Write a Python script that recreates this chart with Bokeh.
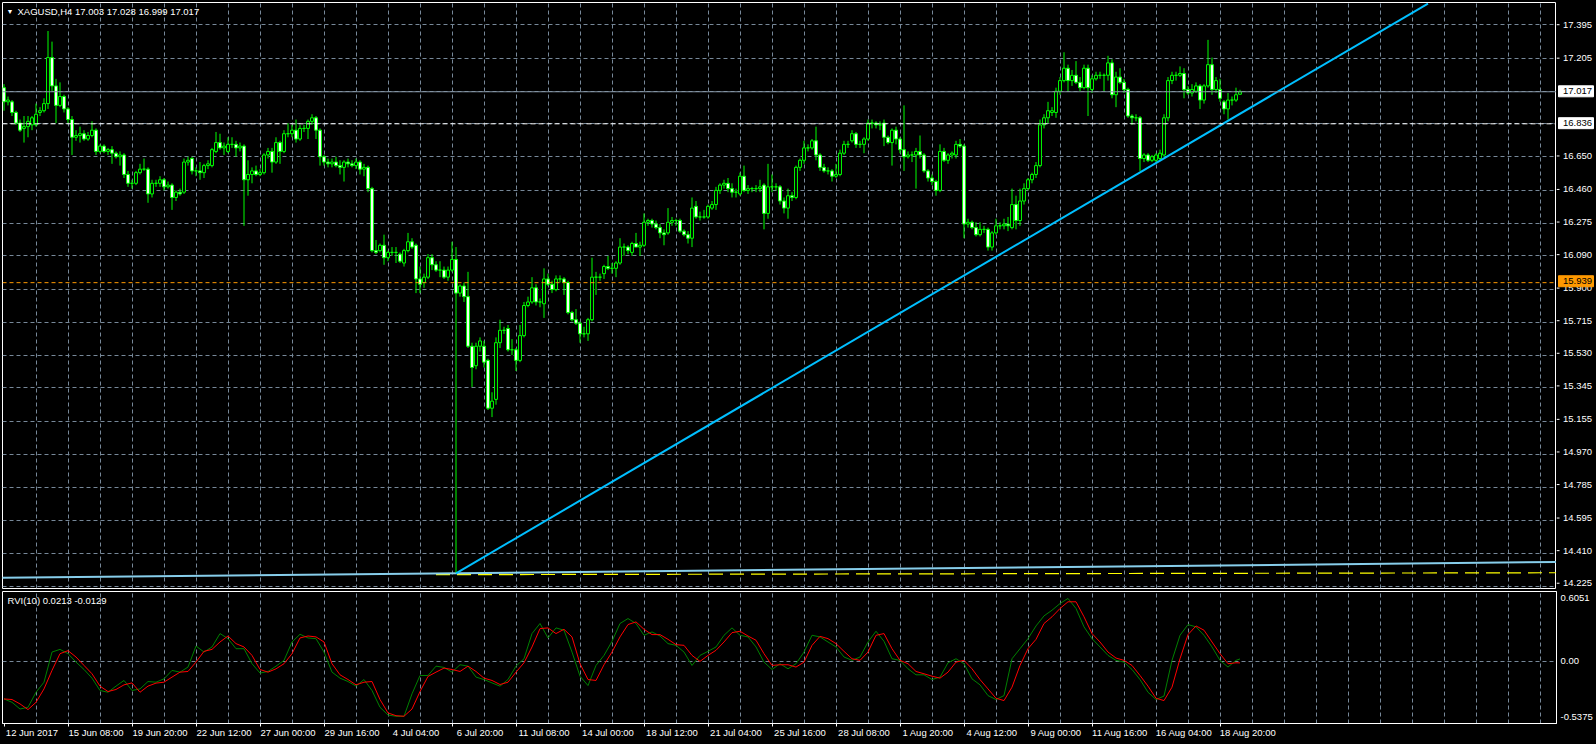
import numpy as np
from bokeh.plotting import figure
from bokeh.layouts import column, row
from bokeh.models import (Range1d, FixedTicker, Span, Label, ColumnDataSource, Grid,
                          LinearAxis)
from bokeh.core.properties import value
from bokeh.embed import file_html
from bokeh.resources import INLINE

# ---------------- data ----------------
symbol_title = "XAGUSD,H4  17.003 17.028 16.999 17.017"
rvi_title = "RVI(10) 0.0213 -0.0129"

opens = [
 17.04,16.96,16.96,16.90,16.84,16.81,16.82,16.83,16.83,16.90,16.91,16.95,17.21,17.05,16.94,16.99,
 16.92,16.86,16.76,16.77,16.78,16.75,16.77,16.80,16.68,16.71,16.68,16.69,16.67,16.65,16.66,16.55,
 16.50,16.50,16.56,16.58,16.58,16.44,16.50,16.50,16.52,16.48,16.49,16.42,16.45,16.45,16.62,16.64,
 16.57,16.57,16.56,16.60,16.60,16.68,16.73,16.70,16.68,16.72,16.72,16.70,16.71,16.52,16.55,16.57,
 16.55,16.56,16.66,16.68,16.62,16.73,16.68,16.78,16.78,16.80,16.75,16.81,16.81,16.85,16.87,16.80,
 16.65,16.62,16.61,16.62,16.60,16.59,16.62,16.61,16.60,16.62,16.58,16.59,16.47,16.12,16.12,16.15,
 16.08,16.11,16.11,16.10,16.05,16.12,16.17,16.15,15.96,15.94,15.97,16.08,16.04,16.01,16.01,15.97,
 16.01,16.07,15.88,15.92,15.86,15.58,15.47,15.58,15.58,15.50,15.23,15.28,15.60,15.67,15.68,15.56,
 15.56,15.50,15.64,15.81,15.83,15.91,15.83,15.82,15.96,15.93,15.90,15.96,15.96,15.94,15.77,15.73,
 15.71,15.65,15.65,15.73,15.97,15.97,15.99,16.03,16.02,16.02,16.05,16.14,16.14,16.11,16.16,16.14,
 16.15,16.28,16.29,16.27,16.25,16.22,16.22,16.28,16.29,16.29,16.23,16.21,16.19,16.37,16.31,16.31,
 16.31,16.36,16.38,16.46,16.49,16.50,16.47,16.45,16.44,16.54,16.46,16.47,16.47,16.47,16.49,16.33,
 16.48,16.48,16.48,16.40,16.36,16.43,16.42,16.59,16.63,16.70,16.70,16.74,16.66,16.59,16.57,16.57,
 16.54,16.55,16.67,16.72,16.74,16.78,16.72,16.72,16.75,16.84,16.84,16.83,16.84,16.76,16.73,16.80,
 16.75,16.69,16.65,16.66,16.66,16.68,16.66,16.57,16.53,16.51,16.46,16.68,16.63,16.66,16.66,16.72,
 16.71,16.27,16.28,16.25,16.21,16.24,16.24,16.14,16.22,16.26,16.26,16.27,16.25,16.38,16.29,16.40,
 16.47,16.52,16.55,16.60,16.83,16.87,16.90,16.90,17.02,17.08,17.15,17.08,17.11,17.07,17.04,17.15,
 17.03,17.09,17.11,17.11,17.11,17.18,17.00,17.10,17.07,17.03,16.88,16.87,16.87,16.64,16.66,16.63,
 16.63,16.64,16.66,16.87,17.08,17.11,17.11,17.12,17.03,17.01,17.02,17.05,16.97,17.05,17.17,17.03,
 17.03,16.96,16.92,16.97,16.97,17.003]
highs = [
 17.06,16.99,16.97,16.91,16.86,16.88,16.88,16.88,16.95,16.93,16.98,17.36,17.30,17.09,17.07,17.00,
 16.93,16.88,16.80,16.82,16.80,16.79,16.85,16.81,16.72,16.72,16.70,16.71,16.68,16.68,16.67,16.57,
 16.52,16.57,16.61,16.64,16.59,16.52,16.52,16.54,16.53,16.51,16.50,16.46,16.47,16.64,16.65,16.65,
 16.59,16.62,16.61,16.63,16.70,16.79,16.78,16.73,16.76,16.76,16.74,16.73,16.72,16.63,16.59,16.60,
 16.58,16.67,16.70,16.70,16.76,16.74,16.80,16.84,16.83,16.86,16.83,16.83,16.86,16.89,16.88,16.81,
 16.66,16.64,16.64,16.65,16.63,16.63,16.64,16.63,16.64,16.63,16.61,16.60,16.48,16.18,16.16,16.21,
 16.12,16.14,16.14,16.11,16.13,16.22,16.19,16.16,16.03,15.99,16.10,16.10,16.06,16.06,16.03,16.03,
 16.17,16.14,15.93,15.94,16.00,15.60,15.60,15.63,15.61,15.51,15.32,15.63,15.73,15.69,15.70,15.62,
 15.57,15.70,15.83,15.86,15.97,15.93,15.85,16.02,15.99,15.95,15.98,15.98,15.97,15.95,15.78,15.79,
 15.72,15.69,15.74,16.08,16.00,15.99,16.04,16.09,16.05,16.06,16.19,16.16,16.15,16.17,16.22,16.17,
 16.33,16.30,16.30,16.29,16.27,16.24,16.36,16.31,16.30,16.30,16.24,16.23,16.42,16.40,16.34,16.35,
 16.38,16.40,16.48,16.50,16.52,16.53,16.50,16.47,16.56,16.60,16.49,16.48,16.49,16.52,16.50,16.61,
 16.55,16.50,16.49,16.42,16.47,16.45,16.60,16.64,16.74,16.72,16.75,16.82,16.67,16.61,16.59,16.58,
 16.61,16.69,16.74,16.74,16.80,16.79,16.74,16.76,16.86,16.86,16.85,16.85,16.86,16.77,16.81,16.82,
 16.76,16.94,16.68,16.68,16.70,16.77,16.67,16.58,16.55,16.52,16.72,16.70,16.67,16.68,16.74,16.75,
 16.72,16.30,16.29,16.28,16.28,16.26,16.25,16.23,16.30,16.28,16.30,16.31,16.47,16.43,16.47,16.50,
 16.53,16.56,16.62,16.86,16.89,16.96,16.93,17.04,17.10,17.24,17.17,17.14,17.19,17.10,17.17,17.17,
 17.11,17.13,17.13,17.12,17.22,17.20,17.13,17.15,17.09,17.04,16.89,16.89,16.88,16.67,16.67,16.66,
 16.67,16.69,16.89,17.10,17.13,17.13,17.16,17.15,17.05,17.06,17.07,17.06,17.06,17.31,17.21,17.10,
 17.09,16.97,17.01,16.99,17.04,17.028]
lows = [
 16.91,16.94,16.88,16.83,16.79,16.73,16.76,16.80,16.82,16.88,16.90,16.92,17.02,16.84,16.93,16.90,
 16.84,16.66,16.74,16.73,16.74,16.74,16.76,16.66,16.67,16.67,16.66,16.61,16.64,16.60,16.53,16.48,
 16.47,16.49,16.55,16.57,16.39,16.42,16.48,16.48,16.46,16.47,16.35,16.40,16.43,16.44,16.60,16.55,
 16.54,16.52,16.53,16.58,16.59,16.67,16.69,16.66,16.67,16.70,16.65,16.68,16.26,16.43,16.50,16.54,
 16.54,16.55,16.64,16.56,16.61,16.61,16.67,16.76,16.76,16.73,16.74,16.79,16.75,16.83,16.75,16.60,
 16.60,16.59,16.59,16.59,16.55,16.51,16.59,16.59,16.58,16.55,16.54,16.45,16.11,16.10,16.11,16.04,
 16.06,16.09,16.05,16.05,16.03,16.11,16.13,15.88,15.88,15.91,15.96,16.01,16.00,15.97,15.96,15.95,
 16.00,14.30,15.86,15.83,15.57,15.35,15.45,15.55,15.46,15.22,15.18,15.25,15.57,15.65,15.55,15.53,
 15.44,15.49,15.63,15.80,15.82,15.81,15.80,15.74,15.92,15.88,15.89,15.94,15.87,15.76,15.72,15.70,
 15.60,15.63,15.61,15.72,15.87,15.95,15.96,16.01,15.99,15.97,16.04,16.09,16.10,16.09,16.14,16.09,
 16.14,16.26,16.25,16.24,16.19,16.15,16.21,16.26,16.26,16.22,16.20,16.16,16.14,16.30,16.29,16.30,
 16.30,16.35,16.35,16.44,16.47,16.45,16.42,16.42,16.43,16.45,16.44,16.45,16.45,16.45,16.24,16.30,
 16.45,16.46,16.38,16.33,16.30,16.40,16.41,16.57,16.61,16.68,16.69,16.63,16.57,16.56,16.55,16.51,
 16.53,16.54,16.66,16.70,16.73,16.70,16.70,16.67,16.74,16.81,16.81,16.80,16.71,16.72,16.60,16.72,
 16.67,16.57,16.64,16.62,16.47,16.64,16.56,16.51,16.49,16.43,16.45,16.62,16.61,16.64,16.64,16.70,
 16.19,16.25,16.24,16.20,16.20,16.22,16.12,16.12,16.21,16.24,16.24,16.23,16.24,16.24,16.26,16.38,
 16.46,16.50,16.53,16.59,16.81,16.84,16.88,16.87,17.00,17.07,17.02,17.05,17.06,17.02,17.03,16.88,
 17.01,17.08,17.09,17.02,17.08,16.98,16.93,17.06,17.01,16.87,16.83,16.85,16.57,16.62,16.62,16.62,
 16.62,16.63,16.65,16.85,17.06,17.08,17.10,16.98,17.00,16.99,17.01,16.92,16.95,17.04,17.00,17.01,
 16.96,16.89,16.86,16.94,16.96,16.999]
closes = [
 16.96,16.97,16.90,16.84,16.80,16.82,16.85,16.87,16.89,16.91,16.95,17.21,17.05,16.94,16.99,16.92,
 16.86,16.76,16.77,16.78,16.75,16.77,16.80,16.68,16.71,16.68,16.69,16.67,16.65,16.66,16.55,16.50,
 16.50,16.56,16.58,16.58,16.44,16.50,16.50,16.52,16.48,16.49,16.42,16.45,16.44,16.62,16.63,16.57,
 16.57,16.56,16.60,16.61,16.69,16.73,16.70,16.71,16.72,16.72,16.70,16.71,16.52,16.55,16.57,16.55,
 16.56,16.66,16.68,16.62,16.73,16.68,16.78,16.78,16.80,16.75,16.81,16.81,16.85,16.87,16.80,16.65,
 16.62,16.61,16.62,16.60,16.59,16.62,16.61,16.60,16.62,16.58,16.59,16.47,16.12,16.11,16.15,16.08,
 16.11,16.11,16.11,16.06,16.12,16.17,16.14,15.96,15.93,15.97,16.08,16.04,16.01,16.01,15.97,16.01,
 16.07,15.88,15.92,15.86,15.58,15.46,15.58,15.61,15.49,15.23,15.27,15.60,15.67,15.67,15.56,15.56,
 15.50,15.64,15.81,15.83,15.91,15.83,15.83,15.96,15.93,15.90,15.96,15.96,15.94,15.77,15.73,15.71,
 15.65,15.65,15.73,15.97,15.97,15.97,16.03,16.02,16.02,16.05,16.14,16.14,16.12,16.16,16.14,16.15,
 16.28,16.29,16.27,16.25,16.22,16.21,16.28,16.29,16.29,16.23,16.21,16.19,16.36,16.31,16.31,16.31,
 16.37,16.38,16.46,16.49,16.50,16.47,16.45,16.45,16.54,16.46,16.47,16.47,16.47,16.48,16.33,16.48,
 16.48,16.48,16.40,16.36,16.43,16.42,16.59,16.63,16.70,16.70,16.74,16.66,16.59,16.57,16.57,16.54,
 16.55,16.67,16.72,16.72,16.78,16.72,16.72,16.75,16.84,16.84,16.83,16.83,16.76,16.73,16.80,16.75,
 16.69,16.65,16.66,16.66,16.68,16.66,16.57,16.53,16.51,16.46,16.68,16.63,16.66,16.67,16.72,16.71,
 16.27,16.28,16.25,16.21,16.24,16.24,16.14,16.22,16.26,16.26,16.27,16.26,16.38,16.29,16.40,16.47,
 16.52,16.55,16.60,16.83,16.87,16.91,16.91,17.02,17.08,17.15,17.08,17.11,17.07,17.04,17.15,17.04,
 17.09,17.11,17.11,17.11,17.18,17.00,17.10,17.07,17.03,16.88,16.87,16.87,16.64,16.66,16.63,16.65,
 16.66,16.67,16.87,17.08,17.11,17.11,17.12,17.03,17.01,17.03,17.05,16.97,17.05,17.17,17.03,17.08,
 16.98,16.92,16.97,16.97,17.00,17.017]

# RVI(10) main line (green) and signal line (red), read every second bar plus the last bar
rvi_bars = list(range(0, 309, 2)) + [309]
rvi_main = [
 -0.325,-0.354,-0.412,-0.397,-0.267,-0.180,0.081,0.104,0.067,-0.006,-0.070,-0.145,-0.252,-0.267,-0.214,-0.165,
 -0.252,-0.238,-0.174,-0.180,-0.151,-0.078,-0.093,-0.049,0.133,0.081,0.125,0.241,0.197,0.110,0.110,-0.020,
 -0.101,-0.087,-0.041,0.009,0.168,0.235,0.203,0.197,0.081,-0.093,-0.145,-0.174,-0.214,-0.157,-0.252,-0.397,
 -0.464,-0.475,-0.475,-0.281,-0.122,-0.122,-0.041,-0.052,-0.093,-0.029,-0.041,-0.136,-0.157,-0.186,-0.214,-0.157,
 -0.041,0.023,0.241,0.328,0.203,0.290,0.270,0.081,-0.128,-0.209,-0.035,0.052,0.174,0.328,0.371,0.328,
 0.226,0.255,0.220,0.154,0.139,0.081,-0.035,0.052,0.087,0.125,0.226,0.290,0.226,0.212,0.125,-0.006,
 -0.070,-0.020,-0.064,-0.020,0.081,0.226,0.212,0.168,0.125,0.038,0.009,0.038,0.168,0.261,0.174,0.023,
 0.009,-0.064,-0.116,-0.116,-0.157,-0.136,-0.012,0.023,-0.020,-0.151,-0.203,-0.296,-0.330,-0.296,0.023,0.110,
 0.197,0.307,0.394,0.443,0.501,0.545,0.458,0.299,0.197,0.125,0.052,0.009,-0.006,-0.070,-0.157,-0.267,
 -0.330,-0.300,0.009,0.226,0.319,0.299,0.226,0.125,0.009,-0.049,0.009,0.0213]
rvi_signal = [
 -0.325,-0.330,-0.368,-0.417,-0.354,-0.238,-0.078,0.067,0.093,0.038,-0.035,-0.107,-0.214,-0.261,-0.243,-0.203,
 -0.186,-0.267,-0.214,-0.188,-0.180,-0.136,-0.093,-0.087,-0.006,0.087,0.104,0.168,0.220,0.154,0.125,0.052,
 -0.070,-0.093,-0.064,-0.020,0.067,0.203,0.220,0.212,0.168,-0.020,-0.116,-0.157,-0.203,-0.180,-0.174,-0.330,
 -0.446,-0.470,-0.475,-0.412,-0.261,-0.130,-0.093,-0.058,-0.070,-0.087,-0.041,-0.087,-0.145,-0.165,-0.200,-0.180,
 -0.093,-0.012,0.125,0.284,0.290,0.241,0.278,0.212,-0.020,-0.157,-0.165,-0.029,0.081,0.212,0.319,0.342,
 0.278,0.232,0.232,0.191,0.145,0.139,0.052,0.000,0.052,0.096,0.168,0.249,0.261,0.220,0.183,0.067,
 -0.035,-0.029,-0.029,-0.049,-0.006,0.139,0.217,0.197,0.154,0.087,0.023,0.009,0.081,0.226,0.241,0.110,
 0.009,-0.020,-0.087,-0.107,-0.128,-0.145,-0.093,-0.006,0.009,-0.064,-0.157,-0.238,-0.319,-0.339,-0.223,-0.035,
 0.110,0.191,0.328,0.386,0.458,0.516,0.516,0.386,0.241,0.168,0.081,0.029,0.009,-0.035,-0.122,-0.214,
 -0.319,-0.339,-0.223,0.023,0.232,0.307,0.270,0.168,0.067,-0.020,-0.012,-0.0129]

# price scale: grid values, and the values written on the scale
price_ticks = [17.395, 17.205, 17.020, 16.835, 16.650, 16.460, 16.275, 16.090, 15.900,
               15.715, 15.530, 15.345, 15.155, 14.970, 14.785, 14.595, 14.410, 14.225]
hidden_price_ticks = [17.020, 16.835]

# horizontal price lines: bid line, white dashed level, orange level
bid_price = 17.017
level_white = 16.836
level_orange = 15.939
level_prices = [bid_price, level_white, level_orange]
level_box_colors = ["white", "white", "#FF9900"]

# trend lines (bar index, price)
trend_bars = [113, 356]
trend_prices = [14.298, 17.515]
slow_line_bars = [-1, 389]
slow_line_prices = [14.272, 14.362]
yellow_bars = [108, 389]
yellow_prices = [14.290, 14.301]

# time axis
date_tick_bars = list(range(0, 305, 16))
date_labels = ["12 Jun 2017", "15 Jun 08:00", "19 Jun 20:00", "22 Jun 12:00", "27 Jun 00:00",
               "29 Jun 16:00", "4 Jul 04:00", "6 Jul 20:00", "11 Jul 08:00", "14 Jul 00:00",
               "18 Jul 12:00", "21 Jul 04:00", "25 Jul 16:00", "28 Jul 08:00", "1 Aug 20:00",
               "4 Aug 12:00", "9 Aug 00:00", "11 Aug 16:00", "16 Aug 04:00", "18 Aug 20:00"]
vgrid_bars = list(range(8, 388, 8))

rvi_ticks = [0.545, 0.0, -0.485]
rvi_tick_labels = ["0.6051", "0.00", "-0.5375"]

# ---------------- styling ----------------
FONT = "Liberation Sans"
FS = "9.5px"
GRID = "#778899"
W = 1596
SCALE_W = 40
LB = 2
H1 = 591          # chart frame 2..588
H2 = 153          # RVI frame 591..723, time scale below
TOP1, BOT1 = 2, 3
BOT2 = 21
LABEL_SHIFT = 7   # MT4 time labels start at their tick: shift label centres right (bars)

y_lo, y_hi = 14.212, 17.521
x_range = Range1d(-0.375, 388.125)

p = figure(width=W - SCALE_W, height=H1, x_range=x_range, y_range=Range1d(y_lo, y_hi),
           x_axis_type=None, y_axis_type=None, output_backend="svg",
           toolbar_location=None, min_border_left=LB, min_border_right=0,
           min_border_top=TOP1, min_border_bottom=BOT1,
           background_fill_color="black", border_fill_color="black",
           outline_line_color="white", outline_line_width=1)

hgrid = Grid(dimension=1, ticker=FixedTicker(ticks=price_ticks),
             grid_line_color=GRID, grid_line_dash="4 3")
vgrid = Grid(dimension=0, ticker=FixedTicker(ticks=vgrid_bars),
             grid_line_color=GRID, grid_line_dash="4 3")
p.add_layout(hgrid)
p.add_layout(vgrid)

# horizontal levels
p.add_layout(Span(location=bid_price, dimension="width", line_color="#8595A5", line_width=1))
p.add_layout(Span(location=level_white, dimension="width", line_color="white",
                  line_width=1, line_dash="5 3"))
p.add_layout(Span(location=level_orange, dimension="width", line_color="#FF9900",
                  line_width=1, line_dash="4 3"))

# lower trend lines
p.line(yellow_bars, yellow_prices, line_color="#FFFF00", line_width=1.2, line_dash="14 7")
p.line(slow_line_bars, slow_line_prices, line_color="#87CEEB", line_width=2)

# candles
bars = np.arange(len(closes))
o = np.array(opens); c = np.array(closes)
src = ColumnDataSource(dict(
    x=bars, high=highs, low=lows,
    top=np.maximum(o, c), bottom=np.minimum(o, c),
    fill=["black" if cc >= oo else "white" for oo, cc in zip(opens, closes)]))
p.segment(x0="x", y0="high", x1="x", y1="low", source=src, line_color="#00FF00", line_width=1)
p.vbar(x="x", width=0.72, top="top", bottom="bottom", source=src,
       fill_color="fill", line_color="#00FF00", line_width=1)

# main trend line
p.line(trend_bars, trend_prices, line_color="#00BFFF", line_width=2)

# title (inside the chart, top-left)
frame_h1 = H1 - TOP1 - BOT1
p.add_layout(Label(x=4, y=frame_h1 - 9, x_units="screen", y_units="screen", text="▼",
                   text_color="white", text_font=FONT, text_font_size="7px",
                   text_baseline="middle"))
p.add_layout(Label(x=15, y=frame_h1 - 9, x_units="screen", y_units="screen", text=symbol_title,
                   text_color="white", text_font=FONT, text_font_size=FS,
                   text_baseline="middle"))

# ---------------- price scale strip (right of the chart) ----------------
# same pixel/price ratio as the chart, but the strip reaches down to the RVI panel
px_per_price = frame_h1 / (y_hi - y_lo)
ps = figure(width=SCALE_W, height=H1, x_range=Range1d(0, SCALE_W),
            y_range=Range1d(y_lo - BOT1 / px_per_price, y_hi),
            x_axis_type=None, y_axis_type=None, output_backend="svg", toolbar_location=None,
            min_border_left=0, min_border_right=0, min_border_top=TOP1, min_border_bottom=0,
            background_fill_color="black", border_fill_color="black", outline_line_color=None)

shown = [v for v in price_ticks if v not in hidden_price_ticks]
scale_src = ColumnDataSource(dict(y=shown, text=[f"{v:.3f}" for v in shown]))
ps.segment(x0=0, x1=3, y0="y", y1="y", source=scale_src, line_color="white", line_width=1)
ps.text(x=6.5, y="y", text="text", source=scale_src, text_color="white",
        text_font=value(FONT), text_font_size=value(FS),
        text_baseline="middle", text_align="left")

box_src = ColumnDataSource(dict(y=level_prices, text=[f"{v:.3f}" for v in level_prices],
                                fill=level_box_colors))
ps.rect(x=19.5, y="y", width=35, height=11, height_units="screen", source=box_src,
        fill_color="fill", line_color="fill")
ps.text(x=6.5, y="y", text="text", source=box_src, text_color="black",
        text_font=value(FONT), text_font_size=value(FS),
        text_baseline="middle", text_align="left")

# ---------------- RVI panel ----------------
p2 = figure(width=W, height=H2, x_range=x_range, y_range=Range1d(-0.5375, 0.6051),
            y_axis_location="right", output_backend="svg", toolbar_location=None,
            min_border_left=LB, min_border_right=SCALE_W, min_border_top=0,
            min_border_bottom=BOT2,
            background_fill_color="black", border_fill_color="black",
            outline_line_color="white", outline_line_width=1)

p2.xgrid.ticker = FixedTicker(ticks=vgrid_bars)
p2.xgrid.grid_line_color = GRID
p2.xgrid.grid_line_dash = "4 3"
p2.ygrid.ticker = FixedTicker(ticks=[0.0])
p2.ygrid.grid_line_color = GRID
p2.ygrid.grid_line_dash = "4 3"

# tick marks of the time scale
xa = p2.xaxis[0]
xa.ticker = FixedTicker(ticks=date_tick_bars)
xa.major_label_overrides = {b: "" for b in date_tick_bars}
xa.axis_line_color = "white"
xa.major_tick_line_color = "white"
xa.major_tick_out = 3
xa.major_tick_in = 0
xa.minor_tick_line_color = None
xa.major_label_standoff = 0
xa.major_label_text_font_size = "1px"

# labels of the time scale (each label starts at its tick)
label_pos = [b + LABEL_SHIFT for b in date_tick_bars]
xb = LinearAxis(ticker=FixedTicker(ticks=label_pos),
                major_label_overrides=dict(zip(label_pos, date_labels)),
                axis_line_color=None, major_tick_line_color=None, minor_tick_line_color=None,
                major_tick_out=0, major_tick_in=0,
                major_label_standoff=0, major_label_text_color="white",
                major_label_text_font=FONT, major_label_text_font_size=FS)
p2.add_layout(xb, "below")

ya2 = p2.yaxis[0]
ya2.ticker = FixedTicker(ticks=rvi_ticks)
ya2.major_label_overrides = dict(zip(rvi_ticks, rvi_tick_labels))
ya2.axis_line_color = "white"
ya2.major_tick_line_color = None
ya2.major_tick_out = 0
ya2.major_tick_in = 0
ya2.minor_tick_line_color = None
ya2.major_label_standoff = 4
ya2.major_label_text_color = "white"
ya2.major_label_text_font = FONT
ya2.major_label_text_font_size = FS

p2.line(rvi_bars, rvi_main, line_color="#008000", line_width=1)
p2.line(rvi_bars, rvi_signal, line_color="#FF0000", line_width=1)

frame_h2 = H2 - BOT2
p2.add_layout(Label(x=5, y=frame_h2 - 9, x_units="screen", y_units="screen", text=rvi_title,
                    text_color="white", text_font=FONT, text_font_size=FS,
                    text_baseline="middle"))

layout = column(row(p, ps, spacing=0), p2, spacing=0)

html = file_html(layout, INLINE, title="XAGUSD,H4")
html = html.replace("<head>", "<head><style>html,body{background:#000000;}</style>", 1)
open("out.html", "w").write(html)
